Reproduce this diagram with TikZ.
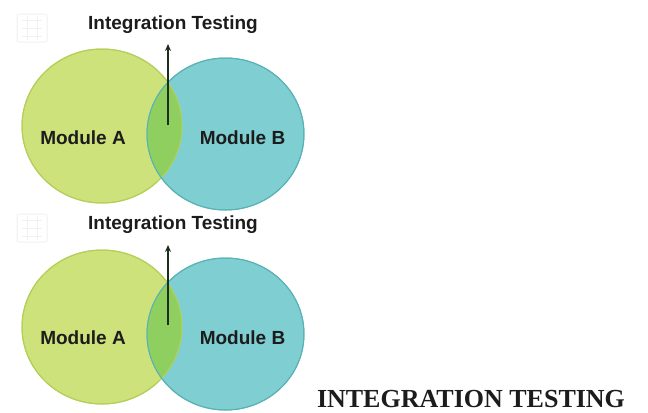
\documentclass[tikz,border=0pt]{standalone}
\usepackage{fontspec}
\setmainfont{Liberation Serif}
\newfontfamily\arialfont{Liberation Sans}
\usetikzlibrary{shapes.geometric,arrows.meta}
\definecolor{modA}{HTML}{CDE27A}
\definecolor{modAedge}{HTML}{B4CF58}
\definecolor{modB}{HTML}{7FCFD2}
\definecolor{modBedge}{HTML}{58B3B6}
\definecolor{overlap}{HTML}{8FCF5F}
\definecolor{arrowcol}{HTML}{1E2E1E}
\definecolor{txt}{HTML}{1C1C1C}
\definecolor{logo}{HTML}{F1F1F1}
\tikzset{
  circA/.style={ellipse, fill=modA, draw=modAedge, line width=1bp, minimum width=160bp, minimum height=154bp, inner sep=0pt},
  circB/.style={ellipse, fill=modB, draw=modBedge, line width=1bp, minimum width=157bp, minimum height=152bp, inner sep=0pt},
  modlabel/.style={font=\arialfont\bfseries\fontsize{19bp}{22bp}\selectfont, text=txt, inner sep=0pt},
  titlelabel/.style={font=\arialfont\bfseries\fontsize{19bp}{22bp}\selectfont, text=txt, inner sep=0pt},
  uparrow/.style={draw=arrowcol, line width=1.4bp, -{Stealth[length=7bp,width=6bp]}},
  logobox/.style={draw=logo, fill=white, line width=1bp, rounded corners=2bp, minimum width=30bp, minimum height=28bp},
}
\begin{document}
\begin{tikzpicture}[x=1bp,y=-1bp]
\useasboundingbox (0,0) rectangle (648,412);
\fill[white] (0,0) rectangle (648,412);
% ---------- diagram 1 ----------
\node[logobox] (logo1) at (32,28) {};
\draw[logo] (22,20) -- (42,20) (22,28) -- (42,28) (22,36) -- (42,36) (27,16) -- (27,40) (37,16) -- (37,40);
\node[circA] (a1) at (102,126) {};
\node[circB] (b1) at (225.5,134) {};
\begin{scope}
  \clip (a1.center) ellipse [x radius=80, y radius=77];
  \fill[overlap] (b1.center) ellipse [x radius=78.5, y radius=76];
\end{scope}
\draw[modAedge, line width=1bp] (a1.center) ellipse [x radius=80, y radius=77];
\draw[modBedge, line width=1bp] (b1.center) ellipse [x radius=78.5, y radius=76];
\node[titlelabel] (t1) at (173,25) {Integration Testing};
\node[modlabel] (ma1) at (83,138) {Module A};
\node[modlabel] (mb1) at (242.5,138) {Module B};
\coordinate (s1) at (168,125);
\coordinate (e1) at (168,44);
\draw[uparrow] (s1) -- (e1);
% ---------- diagram 2 ----------
\node[logobox] (logo2) at (32,228) {};
\draw[logo] (22,220) -- (42,220) (22,228) -- (42,228) (22,236) -- (42,236) (27,216) -- (27,240) (37,216) -- (37,240);
\node[circA] (a2) at (102,327) {};
\node[circB] (b2) at (225.5,334) {};
\begin{scope}
  \clip (a2.center) ellipse [x radius=80, y radius=77];
  \fill[overlap] (b2.center) ellipse [x radius=78.5, y radius=76];
\end{scope}
\draw[modAedge, line width=1bp] (a2.center) ellipse [x radius=80, y radius=77];
\draw[modBedge, line width=1bp] (b2.center) ellipse [x radius=78.5, y radius=76];
\node[titlelabel] (t2) at (173,225) {Integration Testing};
\node[modlabel] (ma2) at (83,338) {Module A};
\node[modlabel] (mb2) at (242.5,338) {Module B};
\coordinate (s2) at (168,325);
\coordinate (e2) at (168,245);
\draw[uparrow] (s2) -- (e2);
% ---------- caption ----------
\node[font=\bfseries\fontsize{26bp}{30bp}\selectfont, text=txt, inner sep=0pt] (cap) at (471,399) {INTEGRATION TESTING};
\end{tikzpicture}
\end{document}
